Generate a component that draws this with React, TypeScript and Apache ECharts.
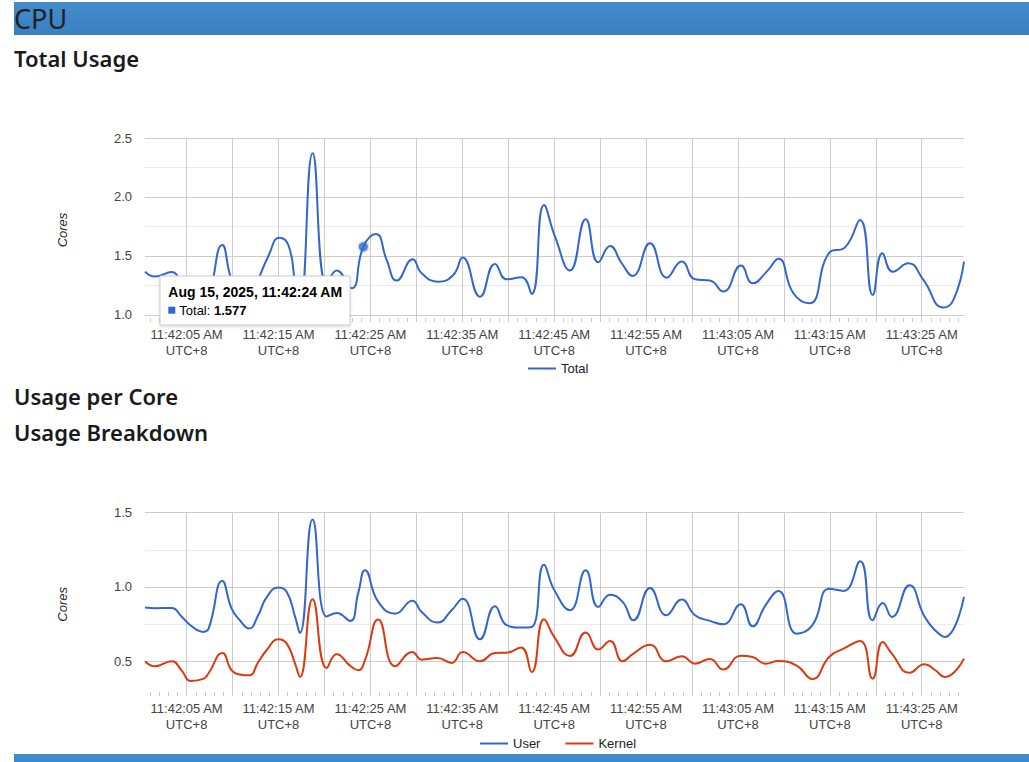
import React, { useEffect, useRef } from "react";
import * as echarts from "echarts";

const CHART_FONT = '"Liberation Sans", Arial, sans-serif';
const HEAD_FONT = '"Noto Sans", "Open Sans", sans-serif';

const BLUE = "#3366cc";
const RED = "#dc3912";

// Clock at second 0 of the window (11:42:00 AM, UTC+8)
const START_SECONDS = 11 * 3600 + 42 * 60;
const DATE_TEXT = "Aug 15, 2025";
const ZONE_TEXT = "UTC+8";

// Total usage samples: seconds after 11:42:00 and cores used
const totalTimes = [
  0.47, 1.55, 3.37, 4.45, 5.45, 6.81, 7.4, 8.88, 9.9, 10.8, 11.8, 12.8, 13.9,
  15.09, 16.07, 16.8, 17.33, 18.71, 20.24, 21.33, 22.96, 24.23, 25.61, 26.77,
  27.86, 29.6, 30.58, 32.39, 34.02, 35.04, 36.93, 38.56, 39.83, 41.46, 42.55,
  43.89, 45.09, 46.72, 48.43, 49.8, 51.08, 52.35, 53.54, 55.43, 57.24, 58.88,
  60.33, 61.96, 63.41, 65.33, 66.6, 68.13, 69.4, 71.03, 72.77, 74.95, 76.65,
  78.29, 79.67, 80.72, 81.84, 83.55, 85.18, 87.36, 88.45, 89.6,
];
const totalCores = [
  1.367, 1.325, 1.364, 1.24, 1.106, 1.077, 1.14, 1.593, 1.292, 1.185, 1.124,
  1.3, 1.5, 1.655, 1.593, 1.283, 1.083, 2.37, 1.254, 1.376, 1.226, 1.577,
  1.686, 1.466, 1.291, 1.472, 1.353, 1.282, 1.339, 1.486, 1.155, 1.432, 1.302,
  1.319, 1.178, 1.932, 1.664, 1.376, 1.811, 1.446, 1.585, 1.438, 1.331, 1.607,
  1.316, 1.452, 1.302, 1.291, 1.198, 1.418, 1.268, 1.367, 1.477, 1.184, 1.099,
  1.528, 1.573, 1.805, 1.169, 1.523, 1.367, 1.438, 1.297, 1.062, 1.127, 1.452,
];

// Highlighted sample shown in the hover card
const hoverIndex = 21;

// User / kernel breakdown samples
const breakdownTimes = [
  0.47, 1.55, 3.37, 4.45, 5.45, 6.81, 7.4, 8.88, 9.9, 10.8, 11.8, 12.8, 13.7,
  15.0, 15.9, 16.8, 17.33, 18.71, 20.24, 21.33, 22.78, 23.68, 24.41, 25.86,
  27.7, 29.55, 30.58, 32.3, 33.84, 35.05, 36.93, 38.56, 39.83, 41.4, 42.55,
  43.89, 45.0, 46.72, 48.43, 49.8, 51.08, 52.45, 53.62, 55.43, 57.2, 58.88,
  60.33, 61.96, 63.4, 65.3, 66.6, 68.0, 69.4, 71.4, 73.1, 74.95, 76.5, 78.3,
  79.65, 80.75, 81.75, 83.66, 85.3, 86.45, 87.5, 89.6,
];
const userCores = [
  0.861, 0.857, 0.858, 0.8, 0.74, 0.697, 0.72, 1.04, 0.854, 0.775, 0.72, 0.81,
  0.93, 0.996, 0.966, 0.8, 0.69, 1.454, 0.8, 0.825, 0.771, 0.96, 1.112, 0.899,
  0.82, 0.906, 0.831, 0.76, 0.843, 0.921, 0.647, 0.87, 0.742, 0.726, 0.73,
  1.15, 0.98, 0.843, 1.112, 0.865, 0.948, 0.899, 0.775, 0.993, 0.809, 0.915,
  0.809, 0.771, 0.748, 0.883, 0.735, 0.876, 0.973, 0.685, 0.742, 0.987, 0.973,
  1.173, 0.775, 0.892, 0.798, 1.011, 0.8, 0.708, 0.663, 0.933,
];
const kernelCores = [
  0.499, 0.465, 0.499, 0.438, 0.366, 0.38, 0.42, 0.555, 0.438, 0.41, 0.404,
  0.494, 0.573, 0.648, 0.618, 0.483, 0.393, 0.917, 0.454, 0.546, 0.47, 0.438,
  0.506, 0.78, 0.465, 0.562, 0.51, 0.521, 0.488, 0.562, 0.499, 0.555, 0.557,
  0.591, 0.427, 0.782, 0.663, 0.535, 0.692, 0.578, 0.636, 0.499, 0.551, 0.611,
  0.499, 0.533, 0.483, 0.515, 0.443, 0.537, 0.528, 0.483, 0.501, 0.47, 0.38,
  0.53, 0.584, 0.636, 0.382, 0.629, 0.55, 0.422, 0.479, 0.44, 0.393, 0.517,
];

// Time axis ticks (seconds after 11:42:00)
const xLabelTicks = [5, 15, 25, 35, 45, 55, 65, 75, 85];
const xGridTicks = [5, 10, 15, 20, 25, 30, 35, 40, 45, 50, 55, 60, 65, 70, 75, 80, 85];
const xSecondTicks = Array.from({ length: 89 }, (_, i) => i + 1);

// Value axis ticks
const totalYRange = [0.94, 2.5];
const totalYLabels = [1.0, 1.5, 2.0, 2.5];
const totalYMinor = [1.25, 1.75, 2.25];
const breakdownYRange = [0.265, 1.5];
const breakdownYLabels = [0.5, 1.0, 1.5];
const breakdownYMinor = [0.75, 1.25];

const pad = (n: number) => String(n).padStart(2, "0");

function clockText(sec: number): string {
  const t = START_SECONDS + sec;
  const h24 = Math.floor(t / 3600);
  const m = Math.floor((t % 3600) / 60);
  const s = t % 60;
  const h12 = ((h24 + 11) % 12) + 1;
  return `${h12}:${pad(m)}:${pad(s)} ${h24 < 12 ? "AM" : "PM"}`;
}

const pairs = (ts: number[], vs: number[]) => ts.map((t, i) => [t, vs[i]]);

interface ChartSpec {
  gridTop: number;
  gridHeight: number;
  xRange: number[];
  yRange: number[];
  yLabels: number[];
  yMinor: number[];
  series: any[];
  legendNames: string[];
  legendLeft: number;
  legendTop: number;
  graphic?: any[];
}

function buildOption(spec: ChartSpec): any {
  const [xMin, xMax] = spec.xRange;
  const [yMin, yMax] = spec.yRange;
  return {
    animation: false,
    textStyle: { fontFamily: CHART_FONT },
    grid: { left: 145, top: spec.gridTop, width: 819, height: spec.gridHeight },
    legend: {
      data: spec.legendNames,
      left: spec.legendLeft,
      top: spec.legendTop,
      icon: "rect",
      itemWidth: 28,
      itemHeight: 2,
      itemGap: 25,
      textStyle: { color: "#222", fontSize: 13, fontFamily: CHART_FONT },
    },
    xAxis: [
      {
        type: "value",
        position: "bottom",
        min: xMin,
        max: xMax,
        axisLine: { show: false },
        axisTick: { show: false, customValues: xGridTicks },
        splitLine: { show: true, lineStyle: { color: "#cccccc", width: 1 } },
        axisLabel: {
          customValues: xLabelTicks,
          formatter: (v: number) => `${clockText(Math.round(v))}\n${ZONE_TEXT}`,
          color: "#444",
          fontSize: 13,
          lineHeight: 16,
          margin: 4,
          fontFamily: CHART_FONT,
        },
      },
      {
        type: "value",
        position: "bottom",
        offset: 0,
        min: xMin,
        max: xMax,
        axisLine: { show: false },
        axisTick: {
          show: true,
          inside: true,
          length: 4,
          customValues: xSecondTicks,
          lineStyle: { color: "#cccccc", width: 1 },
        },
        splitLine: { show: false },
        axisLabel: { show: false },
      },
    ],
    yAxis: [
      {
        type: "value",
        min: yMin,
        max: yMax,
        axisLine: { show: false },
        axisTick: { show: false, customValues: spec.yLabels },
        splitLine: { show: true, lineStyle: { color: "#cccccc", width: 1 } },
        axisLabel: {
          customValues: spec.yLabels,
          formatter: (v: number) => v.toFixed(1),
          color: "#444",
          fontSize: 13,
          margin: 13,
          fontFamily: CHART_FONT,
        },
        name: "Cores",
        nameLocation: "middle",
        nameRotate: 90,
        nameGap: 76,
        nameTextStyle: {
          fontStyle: "italic",
          color: "#222",
          fontSize: 13,
          fontFamily: CHART_FONT,
        },
      },
      {
        type: "value",
        min: yMin,
        max: yMax,
        position: "left",
        axisLine: { show: false },
        axisTick: { show: false, customValues: spec.yMinor },
        splitLine: { show: true, lineStyle: { color: "#ebebeb", width: 1 } },
        axisLabel: { show: false },
      },
    ],
    series: spec.series,
    graphic: spec.graphic || [],
  };
}

function lineSeries(name: string, color: string, data: number[][]) {
  return {
    name,
    type: "line",
    data,
    smooth: 0.5,
    showSymbol: false,
    symbol: "none",
    z: 3,
    color,
    lineStyle: { color, width: 2 },
  };
}

// Hover card geometry within the first chart
const CARD = { x: 160, y: 196, w: 190, h: 49 };

function hoverCard(): any[] {
  const t = totalTimes[hoverIndex];
  const v = totalCores[hoverIndex];
  const title = `${DATE_TEXT}, ${clockText(Math.floor(t))}`;
  const Z = 100;
  return [
    {
      type: "rect",
      z: Z,
      shape: { x: CARD.x, y: CARD.y, width: CARD.w, height: CARD.h },
      style: {
        fill: "#ffffff",
        stroke: "#cccccc",
        lineWidth: 1,
        shadowBlur: 3,
        shadowOffsetY: 1,
        shadowColor: "rgba(0,0,0,0.18)",
      },
    },
    {
      type: "text",
      z: Z + 1,
      x: CARD.x + 8.3,
      y: CARD.y + 16.3,
      style: {
        text: title,
        fill: "#000",
        font: `bold 14px ${CHART_FONT}`,
        verticalAlign: "middle",
      },
    },
    {
      type: "rect",
      z: Z + 1,
      shape: { x: CARD.x + 8.3, y: CARD.y + 30.7, width: 7, height: 7 },
      style: { fill: BLUE },
    },
    {
      type: "text",
      z: Z + 1,
      x: CARD.x + 19.3,
      y: CARD.y + 34.4,
      style: {
        text: `{n|Total: }{b|${v.toFixed(3)}}`,
        verticalAlign: "middle",
        rich: {
          n: { fontSize: 13, fontFamily: CHART_FONT, fill: "#000", color: "#000" },
          b: {
            fontSize: 13,
            fontFamily: CHART_FONT,
            fontWeight: "bold",
            fill: "#000",
            color: "#000",
          },
        },
      },
    },
  ];
}

function useChart(build: () => any) {
  const ref = useRef<HTMLDivElement>(null);
  useEffect(() => {
    if (!ref.current) return;
    const chart = echarts.init(ref.current, undefined, { renderer: "svg" });
    chart.setOption(build());
    return () => chart.dispose();
  }, []);
  return ref;
}

const headingStyle: React.CSSProperties = {
  position: "absolute",
  left: 14,
  margin: 0,
  fontFamily: HEAD_FONT,
  fontSize: 22,
  lineHeight: "22px",
  fontWeight: 600,
  color: "#1a1a1a",
  whiteSpace: "nowrap",
};

export default function App() {
  const totalRef = useChart(() =>
    buildOption({
      gridTop: 58,
      gridHeight: 184,
      xRange: [totalTimes[0], totalTimes[totalTimes.length - 1]],
      yRange: totalYRange,
      yLabels: totalYLabels,
      yMinor: totalYMinor,
      legendNames: ["Total"],
      legendLeft: 523,
      legendTop: 277,
      series: [
        lineSeries("Total", BLUE, pairs(totalTimes, totalCores)),
        {
          name: "hover",
          type: "scatter",
          z: 5,
          data: [[totalTimes[hoverIndex], totalCores[hoverIndex]]],
          symbolSize: 9,
          itemStyle: {
            color: BLUE,
            borderColor: "rgba(51,102,204,0.25)",
            borderWidth: 3,
          },
        },
      ],
      graphic: hoverCard(),
    })
  );

  const breakdownRef = useChart(() =>
    buildOption({
      gridTop: 52.7,
      gridHeight: 183.3,
      xRange: [breakdownTimes[0], breakdownTimes[breakdownTimes.length - 1]],
      yRange: breakdownYRange,
      yLabels: breakdownYLabels,
      yMinor: breakdownYMinor,
      legendNames: ["User", "Kernel"],
      legendLeft: 475,
      legendTop: 272,
      series: [
        lineSeries("User", BLUE, pairs(breakdownTimes, userCores)),
        lineSeries("Kernel", RED, pairs(breakdownTimes, kernelCores)),
      ],
    })
  );

  return (
    <div
      style={{
        position: "absolute",
        left: 0,
        top: 0,
        width: 1029,
        height: 762,
        overflow: "hidden",
        background: "#ffffff",
      }}
    >
      <div
        style={{
          position: "absolute",
          left: 14,
          top: 2,
          width: 1015,
          height: 33,
          background: "linear-gradient(#448ccc, #3a80c0)",
        }}
      />
      <div
        style={{
          position: "absolute",
          left: 14,
          top: 5,
          fontFamily: HEAD_FONT,
          fontSize: 27,
          lineHeight: "27px",
          color: "#222",
          whiteSpace: "nowrap",
        }}
      >
        CPU
      </div>
      <div style={{ ...headingStyle, top: 46.5 }}>Total Usage</div>
      <div ref={totalRef} style={{ position: "absolute", left: 0, top: 80, width: 1029, height: 300 }} />
      <div style={{ ...headingStyle, top: 384.5 }}>Usage per Core</div>
      <div style={{ ...headingStyle, top: 420.5 }}>Usage Breakdown</div>
      <div ref={breakdownRef} style={{ position: "absolute", left: 0, top: 460, width: 1029, height: 302 }} />
      <div
        style={{
          position: "absolute",
          left: 14,
          top: 754,
          width: 1015,
          height: 8,
          background: "#4189c9",
          zIndex: 2,
        }}
      />
    </div>
  );
}
